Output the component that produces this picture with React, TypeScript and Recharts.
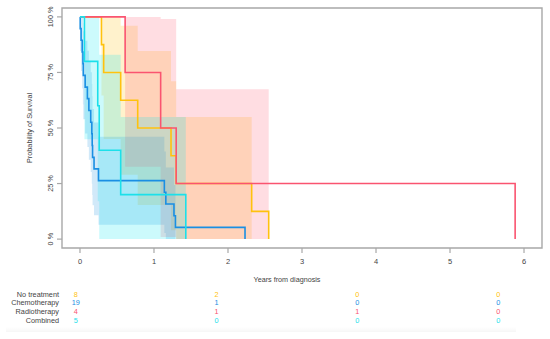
import React from 'react';
import { ComposedChart, Line, Area, XAxis, YAxis, ReferenceArea } from 'recharts';

const FONT = '"Liberation Sans", Arial, sans-serif';
const TEXT = '#444';
const AXIS = '#a8a8a8';

// Kaplan-Meier steps (years, survival)
const noTreatT = [0, 0.29, 0.32, 0.55, 0.78, 1.23, 1.3, 2.32, 2.55];
const noTreatS = [1, 0.875, 0.75, 0.625, 0.5, 0.375, 0.25, 0.125, 0];
const chemoT = [0, 0.003, 0.015, 0.03, 0.04, 0.045, 0.07, 0.1, 0.12, 0.145, 0.16, 0.165, 0.17, 0.19, 0.25, 1.14, 1.16, 1.27, 1.29, 2.23];
const chemoS = [1, 0.947, 0.895, 0.842, 0.789, 0.737, 0.684, 0.632, 0.579, 0.526, 0.474, 0.421, 0.368, 0.316, 0.263, 0.211, 0.158, 0.105, 0.053, 0];
const radioT = [0, 0.61, 1.09, 1.3, 5.88];
const radioS = [1, 0.75, 0.5, 0.25, 0];
const combT = [0, 0.06, 0.24, 0.26, 0.55, 1.43];
const combS = [1, 0.8, 0.6, 0.4, 0.2, 0];

// confidence bands (shaded ribbons)
const noTreatCiT = [0.29, 0.32, 0.55, 0.78, 1.23, 1.3, 2.32];
const noTreatLo = [0.646, 0.45, 0.29, 0.153, 0.04, 0, 0];
const noTreatHi = [1, 1, 0.96, 0.847, 0.71, 0.55, 0.55];
const chemoCiT = [0.003, 0.015, 0.03, 0.04, 0.045, 0.07, 0.1, 0.12, 0.145, 0.16, 0.165, 0.17, 0.19, 0.25, 1.14, 1.16, 1.27, 1.29];
const chemoLo = [0.846, 0.757, 0.678, 0.606, 0.539, 0.475, 0.415, 0.357, 0.302, 0.249, 0.199, 0.152, 0.107, 0.065, 0.027, 0, 0, 0];
const chemoHi = [1, 1, 1, 0.973, 0.935, 0.893, 0.848, 0.801, 0.751, 0.698, 0.643, 0.585, 0.525, 0.461, 0.394, 0.322, 0.243, 0.243];
const radioCiT = [0.61, 1.09, 1.3, 2.55];
const radioLo = [0.326, 0.01, 0, 0];
const radioHi = [1, 0.99, 0.674, 0.674];
const combCiT = [0.06, 0.24, 0.26, 0.55, 1.43];
const combLo = [0.449, 0.17, 0, 0, 0];
const combHi = [1, 1, 0.83, 0.55, 0.55];

// number at risk table
const riskTimes = [0, 2, 4, 6];
const riskNoTreat = [8, 2, 0, 0];
const riskChemo = [19, 1, 0, 0];
const riskRadio = [4, 1, 1, 0];
const riskComb = [5, 0, 0, 0];

const xTicks = [0, 1, 2, 3, 4, 5, 6];
const yTicks = [0, 0.25, 0.5, 0.75, 1];

const curve = (t: number[], s: number[]) => t.map((v, i) => ({ t: v, s: s[i] }));
const band = (t: number[], lo: number[], hi: number[]) => t.map((v, i) => ({ t: v, ci: [lo[i], hi[i]] }));

const groups = [
    { name: 'No treatment', color: '#FFC20E', band: '#FFC000', risk: riskNoTreat, line: curve(noTreatT, noTreatS), ci: band(noTreatCiT, noTreatLo, noTreatHi) },
    { name: 'Chemotherapy', color: '#1A8FE3', band: '#1A8FE3', risk: riskChemo, line: curve(chemoT, chemoS), ci: band(chemoCiT, chemoLo, chemoHi) },
    { name: 'Radiotherapy', color: '#FA5470', band: '#FF5470', risk: riskRadio, line: curve(radioT, radioS), ci: band(radioCiT, radioLo, radioHi) },
    { name: 'Combined', color: '#1CE0EA', band: '#00E5EE', risk: riskComb, line: curve(combT, combS), ci: band(combCiT, combLo, combHi) },
];

function YTick({ x, y, payload }: any) {
    return (
        <text transform={`translate(${x - 2.5},${y}) rotate(-90)`} textAnchor="middle"
            fontSize={7.3} fill={TEXT} fontFamily={FONT}>
            {`${Math.round(payload.value * 100)} %`}
        </text>
    );
}

export default function App() {
    const riskX = (t: number) => 75.8 + 70.4 * t;
    const rowY = [296.6, 305.2, 313.9, 322.6];

    return (
        <div style={{ position: 'absolute', left: 0, top: 0, width: 550, height: 339, background: '#fff' }}>
            <ComposedChart width={550} height={339} margin={{ top: 8, right: 8, left: 0, bottom: 0 }}>
                <XAxis
                    type="number"
                    dataKey="t"
                    domain={[-0.243, 6.243]}
                    allowDataOverflow
                    ticks={xTicks}
                    height={91}
                    axisLine={false}
                    tickLine={{ stroke: AXIS, strokeWidth: 1.2 }}
                    tickSize={5}
                    tickMargin={6}
                    tick={{ fontSize: 7.5, fill: TEXT, fontFamily: FONT }}
                />
                <YAxis
                    type="number"
                    domain={[-0.04, 1.04]}
                    allowDataOverflow
                    ticks={yTicks}
                    width={62}
                    axisLine={false}
                    tickLine={{ stroke: AXIS, strokeWidth: 1.2 }}
                    tickSize={5}
                    tick={<YTick />}
                />
                {groups.map((g) => (
                    <Area
                        key={`ci-${g.name}`}
                        data={g.ci}
                        dataKey="ci"
                        type="stepAfter"
                        stroke="none"
                        fill={g.band}
                        fillOpacity={0.2}
                        isAnimationActive={false}
                    />
                ))}
                {groups.map((g) => (
                    <Line
                        key={`km-${g.name}`}
                        data={g.line}
                        dataKey="s"
                        type="stepAfter"
                        stroke={g.color}
                        strokeWidth={1.6}
                        dot={false}
                        activeDot={false}
                        isAnimationActive={false}
                    />
                ))}
                <ReferenceArea x1={-0.243} x2={6.243} y1={-0.04} y2={1.04} fill="none" stroke={AXIS} strokeWidth={1.4} />
            </ComposedChart>

            <svg width={550} height={339} style={{ position: 'absolute', left: 0, top: 0, pointerEvents: 'none' }}
                fontFamily={FONT}>
                <text transform="translate(32,128) rotate(-90)" textAnchor="middle" fontSize={7.3} fill={TEXT}>
                    Probability of Survival
                </text>
                <text x={287} y={282} textAnchor="middle" fontSize={7.2} fill={TEXT}>Years from diagnosis</text>
                {groups.map((g, r) => (
                    <g key={`risk-${g.name}`}>
                        <text x={59} y={rowY[r]} textAnchor="end" fontSize={7.3} fill={TEXT}>{g.name}</text>
                        {riskTimes.map((t, i) => (
                            <text key={t} x={riskX(t)} y={rowY[r]} textAnchor="middle" fontSize={7.3} fill={g.color}>
                                {g.risk[i]}
                            </text>
                        ))}
                    </g>
                ))}
            </svg>
            <div style={{
                position: 'absolute', left: 6, top: 327, width: 510, height: 5,
                background: 'linear-gradient(180deg, rgba(0,0,0,0) 0%, rgba(0,0,0,0.035) 100%)'
            }} />
        </div>
    );
}
